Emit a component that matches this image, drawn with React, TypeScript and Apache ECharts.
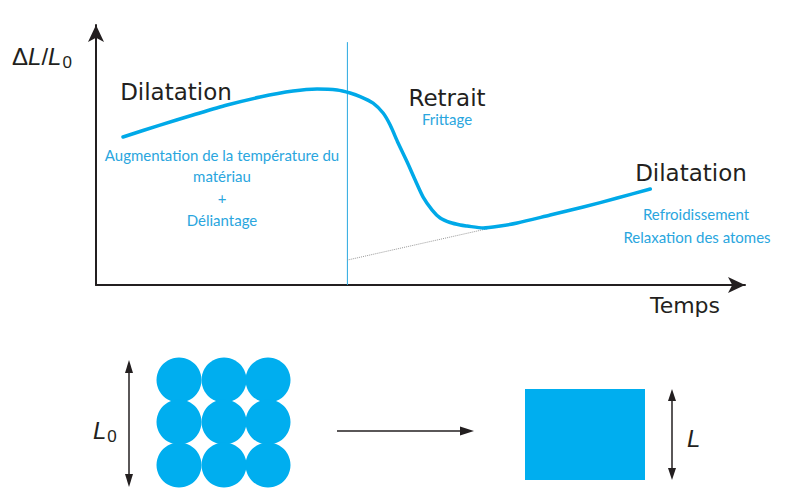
import React, { useEffect, useRef } from "react";
import * as echarts from "echarts";

// Curve data (time in arbitrary units, ΔL/L0 in arbitrary units)
const timeValues = [
  4.21, 9.98, 15.13, 20.44, 25.59, 30.73, 34.48, 37.6, 39.63, 41.19, 43.21, 44.77, 45.87, 47.11, 48.52, 49.77,
  51.01, 52.42, 53.67, 55.23, 56.79, 57.88, 60.37, 63.03, 65.68, 70.83, 75.98, 81.28, 86.43,
];
const strainValues = [
  58.73, 63.49, 67.46, 71.43, 74.6, 76.98, 77.78, 77.38, 76.19, 74.8, 72.22, 68.25, 63.49, 56.35, 48.81, 41.67,
  34.92, 29.76, 26.59, 24.8, 23.81, 23.41, 22.62, 23.41, 24.6, 27.78, 30.95, 34.52, 38.1,
];

// Axis ranges
const timeMax = 101.2;
const strainMax = 103.2;

// Separation line between the two phases
const separatorTime = 39.2;
const separatorRange = [0, 96.4];

// Extrapolated baseline (grey dotted)
const baselineTime = [39.2, 61.5];
const baselineStrain = [9.9, 22.6];

const blue = "#00a9e8";
const textBlue = "#2aa6de";
const dark = "#231f20";

export default function App() {
  const ref = useRef<HTMLDivElement>(null);
  useEffect(() => {
    if (!ref.current) return;
    const chart = echarts.init(ref.current, null, { renderer: "svg" });

    const circleCx = [179, 224, 268];
    const circleCy = [380, 422, 465];
    const circles: any[] = [];
    circleCy.forEach((cy) =>
      circleCx.forEach((cx) =>
        circles.push({ type: "circle", shape: { cx, cy, r: 22.5 }, style: { fill: "#00aeef" }, silent: true })
      )
    );

    const blackText = (text: string, x: number, y: number, size = 23) => ({
      type: "text",
      x,
      y,
      style: { text, fill: dark, font: `${size}px "DejaVu Sans"`, textAlign: "center", textVerticalAlign: "middle" },
    });
    const blueText = (text: string, x: number, y: number) => ({
      type: "text",
      x,
      y,
      style: { text, fill: textBlue, font: `15px Lato`, textAlign: "center", textVerticalAlign: "middle" },
    });
    const lineStyle = { stroke: dark, lineWidth: 1.5 };

    chart.setOption({
      animation: false,
      grid: { left: 96, right: 47, top: 25, bottom: 210 },
      xAxis: {
        type: "value",
        min: 0,
        max: timeMax,
        axisLine: { show: true, symbol: ["none", "arrow"], symbolSize: [12, 17], lineStyle: { color: dark, width: 2 } },
        axisTick: { show: false },
        axisLabel: { show: false },
        splitLine: { show: false },
      },
      yAxis: {
        type: "value",
        min: 0,
        max: strainMax,
        axisLine: { show: true, symbol: ["none", "arrow"], symbolSize: [12, 17], lineStyle: { color: dark, width: 2 } },
        axisTick: { show: false },
        axisLabel: { show: false },
        splitLine: { show: false },
      },
      series: [
        {
          type: "line",
          data: separatorRange.map((v) => [separatorTime, v]),
          symbol: "none",
          lineStyle: { color: "#29a8e0", width: 1 },
          silent: true,
        },
        {
          type: "line",
          data: baselineTime.map((t, i) => [t, baselineStrain[i]]),
          symbol: "none",
          lineStyle: { color: "#999", width: 1, type: "dotted" },
          silent: true,
        },
        {
          type: "line",
          data: timeValues.map((t, i) => [t, strainValues[i]]),
          symbol: "none",
          smooth: 0.25,
          lineStyle: { color: blue, width: 3.5, cap: "round", join: "round" },
          silent: true,
        },
      ],
      graphic: [
        {
          type: "text",
          x: 12,
          y: 56,
          style: {
            text: "{d|Δ}{i|L}{d|/}{i|L}{s|0}",
            textVerticalAlign: "middle",
            rich: {
              d: { font: '24px "Liberation Sans"', fill: dark },
              i: { font: 'italic 24px "Liberation Sans"', fill: dark },
              s: { font: '17px "Liberation Sans"', fill: dark, padding: [12, 0, 0, 1] },
            },
          },
        },
        blackText("Dilatation", 176, 92),
        blackText("Retrait", 447, 98),
        blackText("Dilatation", 691, 173),
        blackText("Temps", 685, 305, 22),
        blueText("Augmentation de la température du", 222, 155),
        blueText("matériau", 222, 176),
        blueText("+", 222, 198),
        blueText("Déliantage", 222, 220),
        blueText("Frittage", 447, 119),
        blueText("Refroidissement", 696, 214),
        blueText("Relaxation des atomes", 697, 237),
        ...circles,
        // left double arrow
        { type: "line", shape: { x1: 129, y1: 368, x2: 129, y2: 479 }, style: lineStyle },
        { type: "polygon", shape: { points: [[129, 360], [125, 373], [133, 373]] }, style: { fill: dark } },
        { type: "polygon", shape: { points: [[129, 487], [125, 474], [133, 474]] }, style: { fill: dark } },
        {
          type: "text",
          x: 93,
          y: 430,
          style: {
            text: "{i|L}{s|0}",
            textVerticalAlign: "middle",
            rich: {
              i: { font: 'italic 24px "Liberation Sans"', fill: dark },
              s: { font: '17px "Liberation Sans"', fill: dark, padding: [12, 0, 0, 1] },
            },
          },
        },
        // horizontal arrow
        { type: "line", shape: { x1: 337, y1: 431, x2: 462, y2: 431 }, style: lineStyle },
        { type: "polygon", shape: { points: [[474, 431], [460, 426.5], [460, 435.5]] }, style: { fill: dark } },
        // square
        { type: "rect", shape: { x: 525, y: 389, width: 120, height: 91 }, style: { fill: "#00aeef" } },
        // right double arrow
        { type: "line", shape: { x1: 672, y1: 396, x2: 672, y2: 473 }, style: lineStyle },
        { type: "polygon", shape: { points: [[672, 389], [668, 401], [676, 401]] }, style: { fill: dark } },
        { type: "polygon", shape: { points: [[672, 480], [668, 468], [676, 468]] }, style: { fill: dark } },
        {
          type: "text",
          x: 687,
          y: 438,
          style: { text: "L", font: 'italic 24px "Liberation Sans"', fill: dark, textVerticalAlign: "middle" },
        },
      ],
    });
    return () => chart.dispose();
  }, []);
  return <div ref={ref} style={{ width: 792, height: 495, position: "absolute", left: 0, top: 0 }} />;
}
